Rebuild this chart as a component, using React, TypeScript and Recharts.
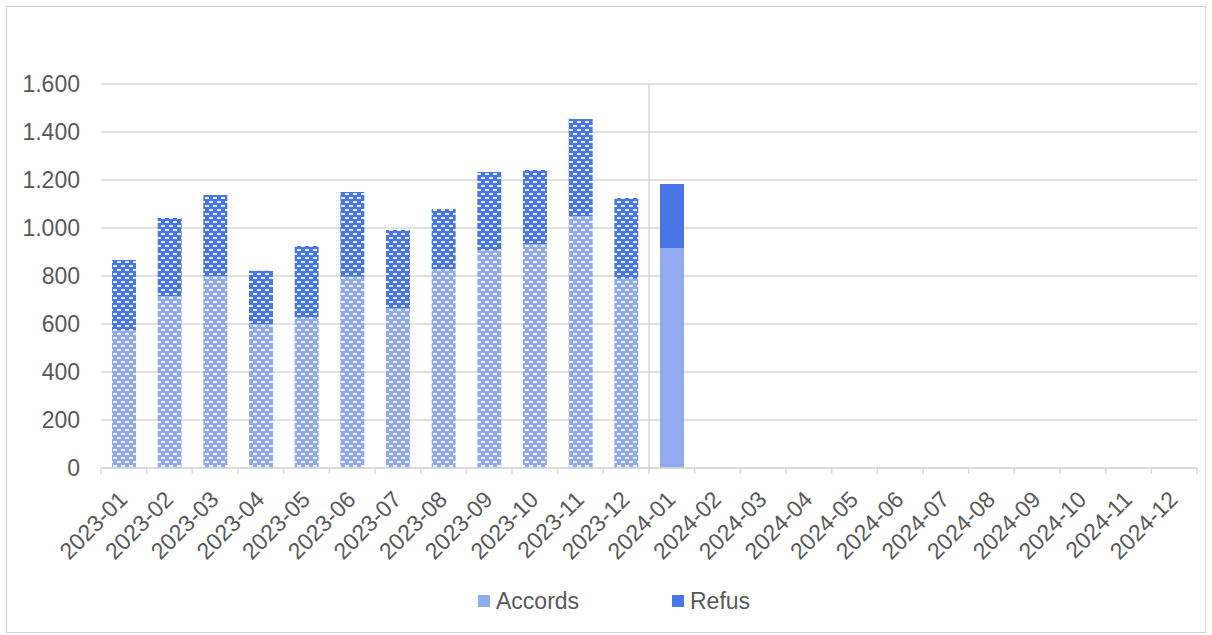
import React from 'react';
import { BarChart, Bar, XAxis, YAxis, CartesianGrid, ReferenceLine, Cell } from 'recharts';

const months = [
  '2023-01', '2023-02', '2023-03', '2023-04', '2023-05', '2023-06',
  '2023-07', '2023-08', '2023-09', '2023-10', '2023-11', '2023-12',
  '2024-01', '2024-02', '2024-03', '2024-04', '2024-05', '2024-06',
  '2024-07', '2024-08', '2024-09', '2024-10', '2024-11', '2024-12',
];
const accords = [575, 717, 800, 600, 626, 797, 665, 829, 908, 933, 1050, 789, 917,
  null, null, null, null, null, null, null, null, null, null, null];
const refus = [292, 325, 337, 222, 299, 353, 327, 250, 325, 309, 404, 336, 266,
  null, null, null, null, null, null, null, null, null, null, null];
const yTicks = [0, 200, 400, 600, 800, 1000, 1200, 1400, 1600];

const ACCORDS = '#92abef';
const REFUS = '#4876e6';
const TEXT = '#595959';
const GRID = '#d9d9d9';
const FONT = '"Liberation Sans", Arial, sans-serif';

const PLOT_W = 1096;
const HALF_BAND = PLOT_W / months.length / 2;

const data = months.map((m, i) => ({ month: m, accords: accords[i], refus: refus[i] }));

const fmt = (v: number) => String(v).replace(/\B(?=(\d{3})+(?!\d))/g, '.');

// excel-ish tick: boundary marks between months, rotated label
function MonthTick(props: any) {
  const { x, y, payload, index } = props;
  const last = index === months.length - 1;
  const tx = x + 5;
  const ty = y + 33;
  return (
    <g>
      <line x1={x - HALF_BAND} x2={x - HALF_BAND} y1={y} y2={y + 6} stroke={GRID} strokeWidth={1.5} />
      {last && <line x1={x + HALF_BAND} x2={x + HALF_BAND} y1={y} y2={y + 6} stroke={GRID} strokeWidth={1.5} />}
      <text
        x={tx}
        y={ty}
        transform={`rotate(-45, ${tx}, ${ty})`}
        textAnchor="end"
        fill={TEXT}
        fontSize={23}
        fontFamily={FONT}
      >
        {payload.value}
      </text>
    </g>
  );
}

function Hatch({ id, color }: { id: string; color: string }) {
  return (
    <pattern id={id} patternUnits="userSpaceOnUse" width={8} height={8}>
      <rect width={8} height={8} fill={color} />
      <rect x={1} y={1} width={4} height={2} fill="#fff" opacity={0.85} />
      <rect x={5} y={5} width={4} height={2} fill="#fff" opacity={0.85} />
      <rect x={-3} y={5} width={4} height={2} fill="#fff" opacity={0.85} />
    </pattern>
  );
}

export default function App() {
  return (
    <div style={{ position: 'absolute', left: 0, top: 0, width: 1212, height: 635, background: '#fff' }}>
      <div
        style={{
          position: 'absolute', left: 6, top: 6, width: 1200, height: 627,
          border: '1px solid #d0d0d0', boxSizing: 'border-box',
        }}
      />
      <div style={{ position: 'absolute', left: 0, top: 0 }}>
        <BarChart
          width={1212}
          height={635}
          data={data}
          margin={{ top: 84, right: 15, bottom: 67, left: 0 }}
          barSize={24}
        >
          <defs>
            <Hatch id="patAccords" color={ACCORDS} />
            <Hatch id="patRefus" color={REFUS} />
          </defs>
          <CartesianGrid vertical={false} stroke={GRID} strokeWidth={1.5} />
          <XAxis
            dataKey="month"
            interval={0}
            tickSize={0}
            tickMargin={0}
            height={100}
            axisLine={{ stroke: GRID, strokeWidth: 1.5 }}
            tick={<MonthTick />}
          />
          <YAxis
            domain={[0, 1600]}
            ticks={yTicks}
            width={101}
            axisLine={false}
            tickLine={false}
            tickMargin={15}
            tickFormatter={fmt}
            tick={{ fill: TEXT, fontSize: 23, fontFamily: FONT }}
          />
          <ReferenceLine x="2024-01" position="start" stroke={GRID} strokeWidth={1.5} />
          <Bar dataKey="accords" stackId="a" fill={ACCORDS} isAnimationActive={false}>
            {data.map((d, i) => (
              <Cell key={d.month} fill={i < 12 ? 'url(#patAccords)' : ACCORDS} />
            ))}
          </Bar>
          <Bar dataKey="refus" stackId="a" fill={REFUS} isAnimationActive={false}>
            {data.map((d, i) => (
              <Cell key={d.month} fill={i < 12 ? 'url(#patRefus)' : REFUS} />
            ))}
          </Bar>
        </BarChart>
      </div>
      <div
        style={{
          position: 'absolute', top: 587, left: 478, display: 'flex', lineHeight: '28px',
          fontFamily: FONT, fontSize: 23, color: TEXT,
        }}
      >
        <div style={{ display: 'flex', alignItems: 'center', width: 194 }}>
          <span style={{ width: 12, height: 12, background: ACCORDS, marginRight: 6, display: 'inline-block' }} />
          Accords
        </div>
        <div style={{ display: 'flex', alignItems: 'center' }}>
          <span style={{ width: 12, height: 12, background: REFUS, marginRight: 6, display: 'inline-block' }} />
          Refus
        </div>
      </div>
    </div>
  );
}
